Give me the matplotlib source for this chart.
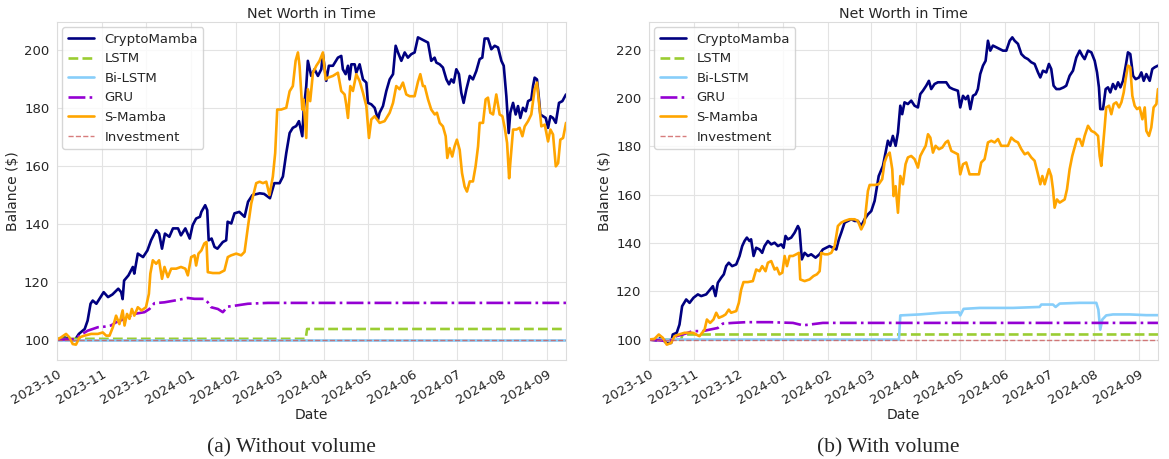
import numpy as np
import pandas as pd
import matplotlib
matplotlib.use("Agg")
import matplotlib.pyplot as plt
import matplotlib.dates as mdates
import seaborn as sns

# ---------------- data (day offsets from 2023-10-01, balance in $) ----------------
START = "2023-10-01"
END_DAY = 349

# (a) Without volume
cm_a_days = [0, 5, 12, 15, 19, 21, 23, 24.5, 27, 29, 32, 35, 38, 42, 44, 45, 46, 49, 52, 53, 55.4, 59, 62, 64.5,
             68, 70, 72, 74, 77, 79.5, 83, 85, 88, 91, 93, 95.4, 98, 99, 101.6, 103, 104, 106, 108, 110, 113.7,
             116, 117, 119.5, 121.7, 125, 128.6, 131, 134, 139, 142, 146, 149, 152.6, 154.9, 157.2, 159.5,
             161.7, 164, 165.9, 168.2, 169.1, 170.9, 172, 174.3, 176.6, 178.9, 181.2, 182.3, 184.6, 186.4,
             189.2, 192.6, 194.9, 196, 197.9, 199.5, 200.6, 201.8, 204.1, 205.2, 207.5, 209.8, 212.1, 213.2,
             215.5, 217.8, 220.1, 221.2, 223.5, 225.8, 228.1, 230.4, 232.2, 233.8, 236.1, 238.4, 240.6, 242.9,
             245.2, 247.5, 249.8, 252.1, 254.4, 256.6, 258.9, 260.1, 262.4, 264.6, 267, 268.8, 270.4, 272,
             273.8, 275.6, 277.2, 278.8, 280.7, 283, 285.2, 287.5, 289.8, 291.6, 293.2, 295.5, 297.8, 300.1,
             302.4, 304.7, 306.3, 308.1, 309.7, 310.8, 312.7, 314.5, 316.1, 317.7, 319.5, 321.4, 323, 325.2,
             326.4, 327.5, 329.1, 330.5, 331.4, 333.3, 335.1, 336.7, 338.3, 340.1, 342, 344.2, 346.5, 349]
cm_a_vals = [100, 100.8, 99.7, 102, 103.7, 106.6, 112.4, 113.5, 112.4, 114, 116.4, 114.7, 115.6, 117.6, 116.4,
             114, 120.4, 122.2, 125.1, 122.8, 129.7, 128.5, 130.8, 134.3, 137.8, 136.6, 131.4, 136.6, 135.5,
             138.4, 138.4, 136, 138.4, 134.9, 139.5, 141.8, 142.4, 144.1, 146.4, 144.7, 134.3, 134.9, 132,
             131.4, 133.7, 134.3, 140.7, 140.1, 143.6, 144.1, 142.4, 147.6, 149.9, 150.5, 150.3, 148.8, 154,
             154, 156.3, 164.4, 171.3, 173.1, 173.7, 175.4, 170.2, 178.9, 187.5, 196.2, 191, 193.3, 191,
             193.3, 198.5, 189.3, 194.5, 194.5, 197.3, 197.9, 193.3, 191.6, 194.5, 189.8, 195, 195, 192.1,
             195, 189.8, 188.7, 181.7, 181.2, 180, 176, 178.3, 180.6, 185.8, 189.8, 191.6, 201.4, 199.1,
             196.2, 199.1, 197.3, 198.5, 199.1, 204.3, 203.7, 203.1, 202.5, 196.2, 197.3, 195.6, 195, 193.9,
             189.8, 188.1, 189.8, 188.7, 193.3, 191.6, 185.2, 181.7, 186.4, 191, 189.8, 192.7, 196.8, 197.3,
             203.9, 203.9, 200.2, 201.4, 200.8, 196.2, 194.5, 184, 171.3, 178.3, 181.7, 177.7, 180.6, 176.5,
             180, 178.8, 182.3, 182.9, 187.5, 190.4, 189.8, 182.9, 177.7, 177.1, 176.5, 173.1, 177.1, 176.5,
             174.8, 181.7, 182.3, 184.6]

lstm_a_days = [0, 170.5, 171.5, END_DAY]
lstm_a_vals = [100.3, 100.3, 103.7, 103.7]

bilstm_a_days = [0, END_DAY]
bilstm_a_vals = [100, 100]

gru_a_days = [0, 12, 15.4, 21, 28, 32.5, 37, 40.5, 46.3, 53, 60, 63.4, 66.8, 73.7, 80.5, 89.7, 94.3, 101,
              103.4, 105.7, 110.3, 113.7, 117, 122.9, 130.9, 144.6, END_DAY]
gru_a_vals = [100, 100.2, 101.4, 103.1, 104.3, 104.5, 104.9, 106, 107.2, 108.9, 109.5, 110.6, 112.6, 112.9,
              113.5, 114.4, 114.1, 114.1, 112.9, 111.2, 110.6, 109.5, 111.4, 111.8, 112.4, 112.7, 112.7]

sm_a_days = [0, 2.8, 6.2, 8.5, 10.8, 13, 15.4, 18.8, 23.4, 28, 31.4, 33.7, 36, 38.3, 40.5, 42.8, 45, 46.3, 48,
             49.7, 51.3, 53, 55.4, 58, 61, 63, 64, 65.7, 68, 70, 72, 73.7, 76, 78.3, 81.7, 85, 88, 89.7, 92,
             94.3, 95.4, 97, 99, 101, 102.5, 103.4, 106.8, 111.4, 114.8, 117.1, 119.4, 122.9, 126.3, 128.6,
             130.9, 133.2, 135.4, 136.6, 138.9, 141.2, 143.5, 145.7, 148, 149.6, 151, 153.7, 157.2, 159.5,
             161.7, 163.6, 165.2, 166.3, 168.2, 169, 170.9, 172, 173.6, 175.5, 177.8, 180, 182.3, 184.2,
             185.8, 189.2, 192.6, 194.9, 197.2, 198.3, 199.5, 201.1, 202.9, 205.2, 207.5, 209.8, 212.1,
             213.9, 215.5, 217.8, 221.2, 224.6, 228.1, 230.4, 232.6, 234.9, 237.2, 239.5, 241.8, 245.2,
             247.5, 249.1, 250.9, 252.1, 254.4, 256.6, 259, 260.5, 262.4, 264.6, 266.5, 267.6, 269.2, 271,
             272.6, 274.2, 276.1, 277.7, 279.5, 281.1, 283, 285.2, 287, 288.7, 289.8, 292.1, 293.9, 295.5,
             297.1, 299, 301.2, 303.5, 305.4, 307, 308.6, 310, 310.8, 312.7, 315, 317.2, 319.1, 320.7, 323,
             325.2, 327.5, 329.1, 330.5, 332.1, 334.4, 336.7, 338.3, 340.1, 342, 343.6, 345.1, 347, 349]
sm_a_vals = [100, 100.8, 102, 100.8, 98.5, 98.3, 100.8, 101.4, 102, 102, 102.5, 101.4, 101.4, 104.3, 108.3,
             105.4, 110.1, 104.9, 108.9, 107.2, 110.6, 108.3, 111.2, 110.1, 111.2, 115.8, 122.8, 127.4, 126.2,
             127.4, 121, 125.1, 121.6, 124.5, 124.5, 125.1, 124.5, 122.2, 128.5, 129.1, 125.6, 129.7, 130.8,
             133.2, 133.7, 123.3, 123, 123, 123.9, 128.5, 129.1, 129.7, 129.1, 130.3, 138.9, 147, 151.6, 154,
             154.5, 154, 154.5, 149.9, 156.3, 164.4, 179.4, 179.4, 180, 185.7, 187.5, 196.2, 199.1, 194.5,
             179.4, 182.9, 169.6, 186.4, 182.3, 192.1, 194.5, 196.2, 199.1, 189.8, 190.4, 191, 192.1, 185.8,
             184.6, 181.2, 176.5, 187.5, 185.8, 191.6, 189.2, 185.2, 180.6, 169.6, 176, 177.1, 174.8, 175.4,
             178.3, 181.7, 187.5, 186.4, 188.7, 184.6, 184, 184, 189, 191.6, 187.5, 187.5, 182.9, 179.4,
             177.7, 178.3, 174.8, 173.6, 170.2, 162.7, 166.1, 163.2, 166.7, 169, 165.5, 157.5, 152.8, 151.1,
             154.6, 154.6, 159.8, 166.7, 174.8, 174.8, 182.9, 183.5, 178.3, 177.7, 184.6, 177.7, 177.1, 173.1,
             167.9, 155.7, 160.9, 172.5, 172.5, 173.1, 170.2, 173.6, 175.4, 177.7, 186.4, 188.7, 181.7, 173.6,
             174.2, 168.4, 172.5, 170.8, 159.8, 160.9, 169, 169.6, 174.8]

# (b) With volume
cm_b_days = [0, 4.9, 8.3, 11.8, 15.2, 16.3, 19, 20.9, 22.7, 25.5, 27.8, 30.5, 33.5, 35.8, 39.2, 41.9, 43.8,
             45.6, 47.2, 49.5, 51.3, 52.9, 54.7, 57, 59.8, 62.1, 63.9, 65.5, 67.1, 68.9, 70, 71.7, 73.5, 75.8,
             77.6, 79.2, 81.5, 83.8, 86.1, 88.4, 90.7, 92.3, 93.6, 95.2, 97.5, 99.8, 102.1, 103.2, 104.8,
             106.7, 109, 111.2, 114.2, 116.9, 119.2, 121.5, 123.8, 126.1, 128.4, 130.2, 131.8, 134.1, 136.4,
             138.7, 141, 143.2, 145.5, 147.8, 150.1, 152.4, 154.7, 157.5, 160.4, 162.2, 163.8, 165.4, 167.2,
             169.1, 170.7, 172.3, 173.6, 175.2, 177.5, 179.8, 182.1, 184.4, 186, 187.8, 190.1, 191.9, 193.5,
             195.8, 198.1, 200.4, 203.8, 206.1, 208.4, 211.8, 213.4, 215.3, 217.1, 218.7, 220.3, 222.1, 224,
             225.5, 227.1, 229, 230.8, 232.4, 234, 235.8, 238.1, 240.4, 242.7, 245, 247.3, 249.1, 250.7, 253,
             255.3, 257.6, 259.8, 262.1, 264.4, 266.7, 268.3, 270.1, 272.4, 274.2, 275.8, 277.4, 279.3, 281.6,
             284.3, 286.1, 288.4, 290.7, 293, 295.3, 297.1, 298.7, 301, 303.3, 305.6, 307.2, 308.5, 309.4,
             311.3, 313.1, 314.7, 316.3, 318.1, 319.9, 321.6, 323.2, 325, 326.9, 328.4, 330, 331.9, 333.7,
             336, 337.6, 339.2, 341, 343.3, 345.1, 346.7, 349]
cm_b_vals = [100, 99.7, 100.7, 98.6, 98.6, 102.1, 102.8, 106.2, 113.8, 116.6, 115.2, 117.3, 118.7, 118, 118.7,
             120.7, 122.1, 118, 123.5, 125.6, 127, 130.4, 131.8, 130.4, 131.1, 134.6, 138.7, 140.8, 142.2,
             140.8, 141.5, 134.6, 138, 137.3, 135.9, 138.7, 140.8, 139.4, 140.1, 138.7, 139.4, 138, 142.9,
             141.5, 142.2, 144.2, 147, 145.6, 133.2, 135.9, 134.6, 135.3, 133.9, 135.3, 137.3, 138, 138.7, 138,
             137.3, 141.5, 144.2, 148.4, 149.1, 149.8, 149.1, 149.1, 147, 149.8, 151.8, 153.2, 157.4, 167.7,
             171.9, 177.4, 182.3, 180.2, 184.3, 180.2, 185.7, 196.8, 193.3, 198.2, 197.5, 198.9, 196.8, 196.1,
             201.6, 203, 205.1, 207.1, 203.7, 205.8, 206.5, 206.5, 206.5, 204.4, 203.7, 203, 196.1, 200.9,
             199.5, 200.9, 195.4, 200.9, 201.6, 203.7, 209.9, 213.4, 215.4, 223.7, 219.6, 221.7, 221, 220.3,
             219.6, 219.6, 223.7, 225.1, 223.7, 222.4, 218.2, 216.8, 216.1, 214.8, 214.1, 210.6, 208.5, 211.3,
             210.6, 214.1, 212, 205.1, 203.7, 203.7, 204.4, 205.1, 209.2, 211.3, 216.8, 219.6, 217.5, 216.1,
             219.6, 218.9, 215.4, 210.6, 204.4, 195.4, 195.4, 203.7, 204.4, 202.3, 205.8, 203.7, 206.5, 204.4,
             207.1, 213.4, 218.9, 218.2, 209.2, 207.8, 208.5, 210.6, 207.1, 209.9, 207.1, 212, 212.7, 213.4]

lstm_b_days = [0, 22, 23, END_DAY]
lstm_b_vals = [100, 100, 102.1, 102.1]

bilstm_b_days = [0, 171.4, 172.3, 185.5, 200.4, 212.5, 213.4, 215.7, 226.7, 249.6, 267.8, 269, 277, 278.8,
                 281.6, 295.3, 306.7, 308.1, 309.4, 310.8, 313.5, 318.1, 329.6, 341, END_DAY]
bilstm_b_vals = [100, 100, 110, 110.4, 111.1, 111.3, 110, 112.7, 113.1, 113.1, 113.5, 114.5, 114.5, 113.5,
                 114.9, 115.2, 115.2, 112.4, 104.1, 108.3, 110, 110.4, 110.4, 110.1, 110.1]

gru_b_days = [0, 14, 18.6, 23.2, 30, 37, 41.5, 47.2, 50.6, 57.5, 66.6, 82.6, 98.7, 105.5, 110, 119.2, END_DAY]
gru_b_vals = [100, 99.3, 101.4, 102.1, 103.5, 103.5, 104.1, 104.8, 106.6, 106.9, 107.2, 107.2, 106.9, 105.9,
              106.2, 106.9, 106.9]

sm_b_days = [0, 3.8, 6.7, 9.5, 12.2, 15.2, 17.5, 20.5, 24.3, 30.1, 32.3, 34.6, 38.1, 39.7, 41.9, 44.2, 46.1,
             47.9, 50.6, 52.5, 54.7, 56.3, 59.8, 61.6, 63.2, 64.8, 67.8, 71.2, 73.5, 75.8, 77.6, 79.9, 81.5,
             83.8, 86.1, 87.7, 89.5, 91.4, 93, 94.6, 96.4, 98.7, 101, 102.8, 103.7, 106.7, 110.1, 112.8, 115.1,
             117, 118.1, 120.4, 122.7, 125, 127.3, 129.5, 131.8, 134.1, 137.5, 141, 143.2, 145.5, 147.8, 150.1,
             151.3, 154.7, 157.5, 159.9, 161.5, 163.1, 165, 166.8, 167.7, 169.1, 170.7, 172.3, 174.1, 175.9,
             177.5, 179.8, 182.1, 184.4, 186, 187.8, 189.7, 191.3, 192.9, 194.7, 196.5, 198.8, 201.1, 203.4,
             205, 207.3, 209.5, 211.8, 213.4, 215.3, 217.5, 219.8, 222.6, 226.2, 227.8, 230.1, 232.4, 234.7,
             237, 239.3, 241.5, 243.8, 246.1, 248.4, 250.7, 253, 255.3, 257.6, 259.8, 262.1, 264.4, 266.7,
             268.3, 269.7, 271.3, 272.9, 274.2, 275.8, 277, 278.1, 279.7, 281.6, 285, 286.6, 288.4, 290.2,
             291.8, 293.4, 295.3, 297.1, 298.7, 301, 303.3, 305.6, 307.9, 309, 310.1, 311.3, 312.4, 313.5,
             315.4, 317, 318.6, 320.4, 322.3, 323.9, 325.5, 326.8, 328.4, 330, 331.4, 333, 334.6, 336.4,
             338.3, 339.9, 341, 342.8, 344.4, 346, 347.9, 349]
sm_b_vals = [100, 100.3, 102.1, 100.7, 97.9, 98.6, 101.4, 102.1, 102.8, 102.8, 102.1, 101.4, 104.1, 108.3,
             106.9, 108.3, 111.1, 109, 109.7, 110.4, 112.4, 111.1, 111.8, 115.2, 120.7, 123.8, 123.8, 124.2,
             129, 128.3, 130.4, 128.3, 131.8, 132.5, 129, 129.7, 127, 127.7, 134.6, 130.4, 134.6, 134.6,
             135.3, 135.9, 124.9, 124.2, 124.9, 126.3, 127, 128.3, 135.9, 135.3, 135.3, 135.9, 138.7, 147,
             148.4, 149.1, 149.8, 149.8, 149.1, 145.6, 148.4, 161.5, 164, 164, 164.3, 166.4, 173.3, 176, 177.4,
             170.5, 159.4, 163.5, 152.5, 167.7, 164.3, 172.6, 175.4, 176, 174.7, 171.2, 176, 178.1, 180.2, 185,
             183.6, 177.4, 180.2, 178.8, 179.5, 181.6, 182.3, 178.1, 177.4, 176.7, 168.4, 172.6, 173.3, 168.4,
             168.4, 168.4, 173.3, 174.7, 181.6, 182.3, 181.6, 183, 180.2, 180.2, 180.2, 183.6, 182.3, 181.6,
             178.8, 176.7, 177.4, 175.4, 174, 168.4, 164.3, 167.7, 164.3, 167.7, 170.5, 167.7, 162.2, 154.6,
             158, 156.7, 158, 162.2, 170.5, 176, 179.5, 183, 183, 180.2, 184.3, 188.5, 186.4, 185.7, 184.3,
             176, 171.9, 180.2, 187.8, 196.1, 196.8, 193.3, 197.5, 198.2, 196.1, 198.2, 202.3, 207.8, 213.4,
             212.7, 200.9, 196.8, 195.4, 196.1, 191.2, 196.1, 186.4, 184.3, 187.8, 196.1, 197.5, 203.7]

invest_days = [0, END_DAY]
invest_vals = [100, 100]

series_names = ["CryptoMamba", "LSTM", "Bi-LSTM", "GRU", "S-Mamba", "Investment"]
panel_titles = ["Net Worth in Time", "Net Worth in Time"]
captions = ["(a) Without volume", "(b) With volume"]
yticks_a = [100, 120, 140, 160, 180, 200]
yticks_b = [100, 120, 140, 160, 180, 200, 220]

panel_a = [(cm_a_days, cm_a_vals), (lstm_a_days, lstm_a_vals), (bilstm_a_days, bilstm_a_vals),
           (gru_a_days, gru_a_vals), (sm_a_days, sm_a_vals), (invest_days, invest_vals)]
panel_b = [(cm_b_days, cm_b_vals), (lstm_b_days, lstm_b_vals), (bilstm_b_days, bilstm_b_vals),
           (gru_b_days, gru_b_vals), (sm_b_days, sm_b_vals), (invest_days, invest_vals)]

# ---------------- styles ----------------
styles = [
    dict(color="navy", lw=1.9, ls="-"),
    dict(color="yellowgreen", lw=1.9, ls="--"),
    dict(color="lightskyblue", lw=1.9, ls="-"),
    dict(color="darkviolet", lw=1.9, ls="-."),
    dict(color="orange", lw=1.9, ls="-"),
    dict(color="indianred", lw=1.0, ls="--", alpha=0.8),
]

sns.set_style("whitegrid", {"grid.color": "#e3e3e3", "axes.edgecolor": "#dcdcdc"})
plt.rcParams["font.family"] = ["DejaVu Sans"]


def to_dates(days):
    return pd.Timestamp(START) + pd.to_timedelta(np.asarray(days, dtype=float), unit="D")


fig = plt.figure(figsize=(11.69, 4.59), dpi=100)
ax_a = fig.add_axes([57 / 1169, 99 / 459, 509 / 1169, 338 / 459])
ax_b = fig.add_axes([649 / 1169, 99 / 459, 509 / 1169, 338 / 459])

for ax, panel, title, yt in [(ax_a, panel_a, panel_titles[0], yticks_a),
                             (ax_b, panel_b, panel_titles[1], yticks_b)]:
    for (d, v), name, st in zip(panel, series_names, styles):
        ax.plot(to_dates(d), v, label=name, **st)
    ax.margins(x=0)
    ax.set_yticks(yt)
    ax.xaxis.set_major_locator(mdates.MonthLocator())
    ax.xaxis.set_major_formatter(mdates.DateFormatter("%Y-%m"))
    for lbl in ax.get_xticklabels():
        lbl.set_rotation(30)
        lbl.set_ha("right")
        lbl.set_rotation_mode("anchor")
    ax.tick_params(axis="both", labelsize=9.5, pad=2)
    ax.set_title(title, fontsize=10.3, pad=3)
    ax.set_xlabel("Date", fontsize=10, labelpad=1)
    ax.set_ylabel("Balance ($)", fontsize=10, labelpad=3)
    ax.legend(loc="upper left", fontsize=9.5, frameon=True, borderaxespad=0.4)

fig.text(291.7 / 1169, 1 - 448 / 459, captions[0], ha="center", va="center",
         fontsize=15.5, family=["Liberation Serif", "DejaVu Serif"])
fig.text(888.3 / 1169, 1 - 448 / 459, captions[1], ha="center", va="center",
         fontsize=15.5, family=["Liberation Serif", "DejaVu Serif"])

fig.savefig("out.png", dpi=100)
